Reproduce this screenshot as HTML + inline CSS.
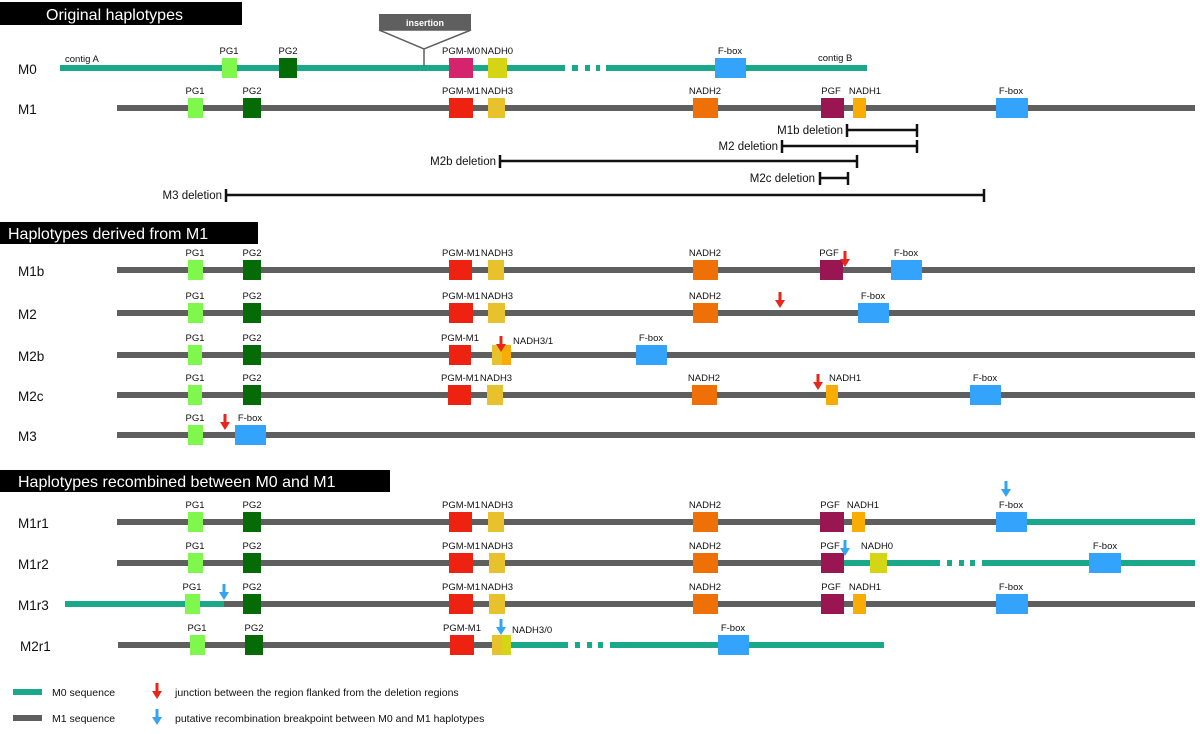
<!DOCTYPE html>
<html><head><meta charset="utf-8"><style>
body{margin:0;background:#fff}
svg{display:block;font-family:"Liberation Sans",Arial,sans-serif}
.g{font-size:9.5px;fill:#111}
.r{font-size:13.5px;fill:#111}
.d{font-size:11.5px;fill:#111}
.h{font-size:16px;fill:#fff}
</style></head><body>
<svg width="1200" height="734" viewBox="0 0 1200 734" xmlns="http://www.w3.org/2000/svg">
<defs>
<g id="ra"><rect x="-1.5" y="0" width="3" height="9" fill="#e8261a"/><polygon points="-5,8 5,8 0,16" fill="#e8261a"/></g>
<g id="ba"><rect x="-1.5" y="0" width="3" height="9" fill="#35a4f0"/><polygon points="-5,8 5,8 0,16" fill="#35a4f0"/></g>
</defs>
<!-- headers -->
<rect x="0" y="2" width="242" height="23" fill="#000"/><text x="46" y="20" class="h">Original haplotypes</text>
<rect x="0" y="222" width="258" height="22" fill="#000"/><text x="8" y="239" class="h">Haplotypes derived from M1</text>
<rect x="0" y="470" width="390" height="22" fill="#000"/><text x="18" y="487" class="h">Haplotypes recombined between M0 and M1</text>

<!-- M0 -->
<text x="18" y="74" class="r">M0</text>
<line x1="60" y1="68" x2="565" y2="68" stroke="#1aa88a" stroke-width="6"/>
<line x1="572" y1="68" x2="578" y2="68" stroke="#1aa88a" stroke-width="6"/>
<line x1="585" y1="68" x2="590" y2="68" stroke="#1aa88a" stroke-width="6"/>
<line x1="596" y1="68" x2="600" y2="68" stroke="#1aa88a" stroke-width="6"/>
<line x1="606" y1="68" x2="867" y2="68" stroke="#1aa88a" stroke-width="6"/>
<text x="65" y="62" class="g">contig A</text><text x="818" y="61" class="g">contig B</text>
<rect x="379" y="14" width="92" height="16" fill="#5f5f5f"/>
<polygon points="379,30 471,30 424,49" fill="#fff" stroke="#5f5f5f" stroke-width="1.5"/>
<line x1="424" y1="49" x2="424" y2="66" stroke="#5f5f5f" stroke-width="1.5"/>
<text x="425" y="26" class="g" text-anchor="middle" fill="#fff" style="fill:#fff;font-weight:bold;font-size:9px">insertion</text>
<rect x="222" y="58" width="15" height="20" fill="#80f74d"/><text x="229" y="54" class="g" text-anchor="middle">PG1</text>
<rect x="279" y="58" width="18" height="20" fill="#056b06"/><text x="288" y="54" class="g" text-anchor="middle">PG2</text>
<rect x="449" y="58" width="24" height="20" fill="#d4246e"/><text x="461" y="54" class="g" text-anchor="middle">PGM-M0</text>
<rect x="488" y="58" width="19" height="20" fill="#d5d516"/><text x="497" y="54" class="g" text-anchor="middle">NADH0</text>
<rect x="715" y="58" width="31" height="20" fill="#33a3fb"/><text x="730" y="54" class="g" text-anchor="middle">F-box</text>

<!-- M1 -->
<text x="18" y="114" class="r">M1</text>
<line x1="117" y1="108" x2="1195" y2="108" stroke="#5f5f5f" stroke-width="6"/>
<rect x="188" y="98" width="15" height="20" fill="#80f74d"/><text x="195" y="94" class="g" text-anchor="middle">PG1</text>
<rect x="243" y="98" width="18" height="20" fill="#056b06"/><text x="252" y="94" class="g" text-anchor="middle">PG2</text>
<rect x="449" y="98" width="24" height="20" fill="#ee2211"/><text x="461" y="94" class="g" text-anchor="middle">PGM-M1</text>
<rect x="488" y="98" width="17" height="20" fill="#e8c22c"/><text x="497" y="94" class="g" text-anchor="middle">NADH3</text>
<rect x="693" y="98" width="25" height="20" fill="#f07008"/><text x="705" y="94" class="g" text-anchor="middle">NADH2</text>
<rect x="821" y="98" width="23" height="20" fill="#991652"/><text x="831" y="94" class="g" text-anchor="middle">PGF</text>
<rect x="853" y="98" width="13" height="20" fill="#f9ad04"/><text x="865" y="94" class="g" text-anchor="middle">NADH1</text>
<rect x="996" y="98" width="32" height="20" fill="#33a3fb"/><text x="1011" y="94" class="g" text-anchor="middle">F-box</text>

<!-- deletions -->
<g stroke="#111" stroke-width="2.5">
<line x1="847" y1="130" x2="917" y2="130"/><line x1="847" y1="124" x2="847" y2="137"/><line x1="917" y1="124" x2="917" y2="137"/>
<line x1="782" y1="146" x2="917" y2="146"/><line x1="782" y1="140" x2="782" y2="153"/><line x1="917" y1="140" x2="917" y2="153"/>
<line x1="500" y1="161" x2="857" y2="161"/><line x1="500" y1="155" x2="500" y2="168"/><line x1="857" y1="155" x2="857" y2="168"/>
<line x1="820" y1="178" x2="848" y2="178"/><line x1="820" y1="172" x2="820" y2="185"/><line x1="848" y1="172" x2="848" y2="185"/>
<line x1="226" y1="195" x2="984" y2="195"/><line x1="226" y1="189" x2="226" y2="202"/><line x1="984" y1="189" x2="984" y2="202"/>
</g>
<text x="843" y="134" class="d" text-anchor="end">M1b deletion</text>
<text x="778" y="150" class="d" text-anchor="end">M2 deletion</text>
<text x="496" y="165" class="d" text-anchor="end">M2b deletion</text>
<text x="815" y="182" class="d" text-anchor="end">M2c deletion</text>
<text x="222" y="199" class="d" text-anchor="end">M3 deletion</text>

<!-- M1b -->
<text x="18" y="276" class="r">M1b</text>
<line x1="117" y1="270" x2="1195" y2="270" stroke="#5f5f5f" stroke-width="6"/>
<rect x="188" y="260" width="15" height="20" fill="#80f74d"/><text x="195" y="256" class="g" text-anchor="middle">PG1</text>
<rect x="243" y="260" width="18" height="20" fill="#056b06"/><text x="252" y="256" class="g" text-anchor="middle">PG2</text>
<rect x="449" y="260" width="23" height="20" fill="#ee2211"/><text x="461" y="256" class="g" text-anchor="middle">PGM-M1</text>
<rect x="488" y="260" width="16" height="20" fill="#e8c22c"/><text x="497" y="256" class="g" text-anchor="middle">NADH3</text>
<rect x="693" y="260" width="25" height="20" fill="#f07008"/><text x="705" y="256" class="g" text-anchor="middle">NADH2</text>
<rect x="820" y="260" width="23" height="20" fill="#991652"/><text x="829" y="256" class="g" text-anchor="middle">PGF</text>
<use href="#ra" x="845" y="251"/>
<rect x="891" y="260" width="31" height="20" fill="#33a3fb"/><text x="906" y="256" class="g" text-anchor="middle">F-box</text>

<!-- M2 -->
<text x="18" y="319" class="r">M2</text>
<line x1="117" y1="313" x2="1195" y2="313" stroke="#5f5f5f" stroke-width="6"/>
<rect x="188" y="303" width="15" height="20" fill="#80f74d"/><text x="195" y="299" class="g" text-anchor="middle">PG1</text>
<rect x="243" y="303" width="18" height="20" fill="#056b06"/><text x="252" y="299" class="g" text-anchor="middle">PG2</text>
<rect x="449" y="303" width="24" height="20" fill="#ee2211"/><text x="461" y="299" class="g" text-anchor="middle">PGM-M1</text>
<rect x="488" y="303" width="17" height="20" fill="#e8c22c"/><text x="497" y="299" class="g" text-anchor="middle">NADH3</text>
<rect x="693" y="303" width="25" height="20" fill="#f07008"/><text x="705" y="299" class="g" text-anchor="middle">NADH2</text>
<use href="#ra" x="780" y="292"/>
<rect x="858" y="303" width="31" height="20" fill="#33a3fb"/><text x="873" y="299" class="g" text-anchor="middle">F-box</text>

<!-- M2b -->
<text x="18" y="361" class="r">M2b</text>
<line x1="117" y1="355" x2="1195" y2="355" stroke="#5f5f5f" stroke-width="6"/>
<rect x="188" y="345" width="14" height="20" fill="#80f74d"/><text x="195" y="341" class="g" text-anchor="middle">PG1</text>
<rect x="243" y="345" width="18" height="20" fill="#056b06"/><text x="252" y="341" class="g" text-anchor="middle">PG2</text>
<rect x="449" y="345" width="22" height="20" fill="#ee2211"/><text x="460" y="341" class="g" text-anchor="middle">PGM-M1</text>
<rect x="492" y="345" width="10" height="20" fill="#e8c22c"/><rect x="502" y="345" width="9" height="20" fill="#f9ad04"/>
<use href="#ra" x="501" y="336"/>
<text x="513" y="344" class="g">NADH3/1</text>
<rect x="636" y="345" width="31" height="20" fill="#33a3fb"/><text x="651" y="341" class="g" text-anchor="middle">F-box</text>

<!-- M2c -->
<text x="18" y="401" class="r">M2c</text>
<line x1="117" y1="395" x2="1195" y2="395" stroke="#5f5f5f" stroke-width="6"/>
<rect x="188" y="385" width="14" height="20" fill="#80f74d"/><text x="195" y="381" class="g" text-anchor="middle">PG1</text>
<rect x="243" y="385" width="18" height="20" fill="#056b06"/><text x="252" y="381" class="g" text-anchor="middle">PG2</text>
<rect x="448" y="385" width="23" height="20" fill="#ee2211"/><text x="460" y="381" class="g" text-anchor="middle">PGM-M1</text>
<rect x="487" y="385" width="16" height="20" fill="#e8c22c"/><text x="496" y="381" class="g" text-anchor="middle">NADH3</text>
<rect x="692" y="385" width="25" height="20" fill="#f07008"/><text x="704" y="381" class="g" text-anchor="middle">NADH2</text>
<use href="#ra" x="818" y="374"/>
<rect x="826" y="385" width="12" height="20" fill="#f9ad04"/><text x="829" y="381" class="g">NADH1</text>
<rect x="970" y="385" width="31" height="20" fill="#33a3fb"/><text x="985" y="381" class="g" text-anchor="middle">F-box</text>

<!-- M3 -->
<text x="18" y="441" class="r">M3</text>
<line x1="117" y1="435" x2="1195" y2="435" stroke="#5f5f5f" stroke-width="6"/>
<rect x="188" y="425" width="15" height="20" fill="#80f74d"/><text x="195" y="421" class="g" text-anchor="middle">PG1</text>
<use href="#ra" x="225" y="414"/>
<rect x="235" y="425" width="31" height="20" fill="#33a3fb"/><text x="250" y="421" class="g" text-anchor="middle">F-box</text>

<!-- M1r1 -->
<text x="18" y="528" class="r">M1r1</text>
<line x1="117" y1="522" x2="1027" y2="522" stroke="#5f5f5f" stroke-width="6"/>
<line x1="1027" y1="522" x2="1195" y2="522" stroke="#1aa88a" stroke-width="6"/>
<rect x="188" y="512" width="15" height="20" fill="#80f74d"/><text x="195" y="508" class="g" text-anchor="middle">PG1</text>
<rect x="243" y="512" width="18" height="20" fill="#056b06"/><text x="252" y="508" class="g" text-anchor="middle">PG2</text>
<rect x="449" y="512" width="23" height="20" fill="#ee2211"/><text x="461" y="508" class="g" text-anchor="middle">PGM-M1</text>
<rect x="488" y="512" width="16" height="20" fill="#e8c22c"/><text x="497" y="508" class="g" text-anchor="middle">NADH3</text>
<rect x="693" y="512" width="25" height="20" fill="#f07008"/><text x="705" y="508" class="g" text-anchor="middle">NADH2</text>
<rect x="820" y="512" width="24" height="20" fill="#991652"/><text x="830" y="508" class="g" text-anchor="middle">PGF</text>
<rect x="852" y="512" width="13" height="20" fill="#f9ad04"/><text x="863" y="508" class="g" text-anchor="middle">NADH1</text>
<rect x="996" y="512" width="31" height="20" fill="#33a3fb"/><text x="1011" y="508" class="g" text-anchor="middle">F-box</text>
<use href="#ba" x="1006" y="481"/>

<!-- M1r2 -->
<text x="18" y="569" class="r">M1r2</text>
<line x1="117" y1="563" x2="844" y2="563" stroke="#5f5f5f" stroke-width="6"/>
<line x1="844" y1="563" x2="940" y2="563" stroke="#1aa88a" stroke-width="6"/>
<line x1="947" y1="563" x2="952" y2="563" stroke="#1aa88a" stroke-width="6"/>
<line x1="959" y1="563" x2="964" y2="563" stroke="#1aa88a" stroke-width="6"/>
<line x1="970" y1="563" x2="975" y2="563" stroke="#1aa88a" stroke-width="6"/>
<line x1="982" y1="563" x2="1195" y2="563" stroke="#1aa88a" stroke-width="6"/>
<rect x="188" y="553" width="15" height="20" fill="#80f74d"/><text x="195" y="549" class="g" text-anchor="middle">PG1</text>
<rect x="243" y="553" width="18" height="20" fill="#056b06"/><text x="252" y="549" class="g" text-anchor="middle">PG2</text>
<rect x="449" y="553" width="24" height="20" fill="#ee2211"/><text x="461" y="549" class="g" text-anchor="middle">PGM-M1</text>
<rect x="489" y="553" width="16" height="20" fill="#e8c22c"/><text x="497" y="549" class="g" text-anchor="middle">NADH3</text>
<rect x="693" y="553" width="25" height="20" fill="#f07008"/><text x="705" y="549" class="g" text-anchor="middle">NADH2</text>
<rect x="821" y="553" width="23" height="20" fill="#991652"/><text x="830" y="549" class="g" text-anchor="middle">PGF</text>
<use href="#ba" x="845" y="540"/>
<rect x="870" y="553" width="17" height="20" fill="#d5d516"/><text x="877" y="549" class="g" text-anchor="middle">NADH0</text>
<rect x="1089" y="553" width="32" height="20" fill="#33a3fb"/><text x="1105" y="549" class="g" text-anchor="middle">F-box</text>

<!-- M1r3 -->
<text x="18" y="610" class="r">M1r3</text>
<line x1="65" y1="604" x2="224" y2="604" stroke="#1aa88a" stroke-width="6"/>
<line x1="224" y1="604" x2="1195" y2="604" stroke="#5f5f5f" stroke-width="6"/>
<rect x="185" y="594" width="15" height="20" fill="#80f74d"/><text x="192" y="590" class="g" text-anchor="middle">PG1</text>
<use href="#ba" x="224" y="584"/>
<rect x="243" y="594" width="18" height="20" fill="#056b06"/><text x="252" y="590" class="g" text-anchor="middle">PG2</text>
<rect x="449" y="594" width="24" height="20" fill="#ee2211"/><text x="461" y="590" class="g" text-anchor="middle">PGM-M1</text>
<rect x="489" y="594" width="16" height="20" fill="#e8c22c"/><text x="497" y="590" class="g" text-anchor="middle">NADH3</text>
<rect x="693" y="594" width="25" height="20" fill="#f07008"/><text x="705" y="590" class="g" text-anchor="middle">NADH2</text>
<rect x="821" y="594" width="23" height="20" fill="#991652"/><text x="831" y="590" class="g" text-anchor="middle">PGF</text>
<rect x="853" y="594" width="13" height="20" fill="#f9ad04"/><text x="865" y="590" class="g" text-anchor="middle">NADH1</text>
<rect x="996" y="594" width="32" height="20" fill="#33a3fb"/><text x="1011" y="590" class="g" text-anchor="middle">F-box</text>

<!-- M2r1 -->
<text x="20" y="651" class="r">M2r1</text>
<line x1="118" y1="645" x2="493" y2="645" stroke="#5f5f5f" stroke-width="6"/>
<line x1="511" y1="645" x2="568" y2="645" stroke="#1aa88a" stroke-width="6"/>
<line x1="575" y1="645" x2="580" y2="645" stroke="#1aa88a" stroke-width="6"/>
<line x1="587" y1="645" x2="592" y2="645" stroke="#1aa88a" stroke-width="6"/>
<line x1="598" y1="645" x2="603" y2="645" stroke="#1aa88a" stroke-width="6"/>
<line x1="610" y1="645" x2="884" y2="645" stroke="#1aa88a" stroke-width="6"/>
<rect x="190" y="635" width="15" height="20" fill="#80f74d"/><text x="197" y="631" class="g" text-anchor="middle">PG1</text>
<rect x="245" y="635" width="18" height="20" fill="#056b06"/><text x="254" y="631" class="g" text-anchor="middle">PG2</text>
<rect x="450" y="635" width="24" height="20" fill="#ee2211"/><text x="462" y="631" class="g" text-anchor="middle">PGM-M1</text>
<rect x="492" y="635" width="10" height="20" fill="#e8c22c"/><rect x="502" y="635" width="9" height="20" fill="#d5d516"/>
<use href="#ba" x="501" y="619"/>
<text x="512" y="633" class="g">NADH3/0</text>
<rect x="718" y="635" width="31" height="20" fill="#33a3fb"/><text x="733" y="631" class="g" text-anchor="middle">F-box</text>

<!-- legend -->
<line x1="13" y1="692" x2="42" y2="692" stroke="#1aa88a" stroke-width="6"/>
<text x="52" y="696" class="g" style="font-size:10.5px">M0 sequence</text>
<line x1="13" y1="718" x2="42" y2="718" stroke="#5f5f5f" stroke-width="6"/>
<text x="52" y="722" class="g" style="font-size:10.5px">M1 sequence</text>
<use href="#ra" x="157" y="683"/>
<text x="175" y="696" class="g" style="font-size:10.5px">junction between the region flanked from the deletion regions</text>
<use href="#ba" x="157" y="709"/>
<text x="175" y="722" class="g" style="font-size:10.5px">putative recombination breakpoint between M0 and M1 haplotypes</text>
</svg>
</body></html>
